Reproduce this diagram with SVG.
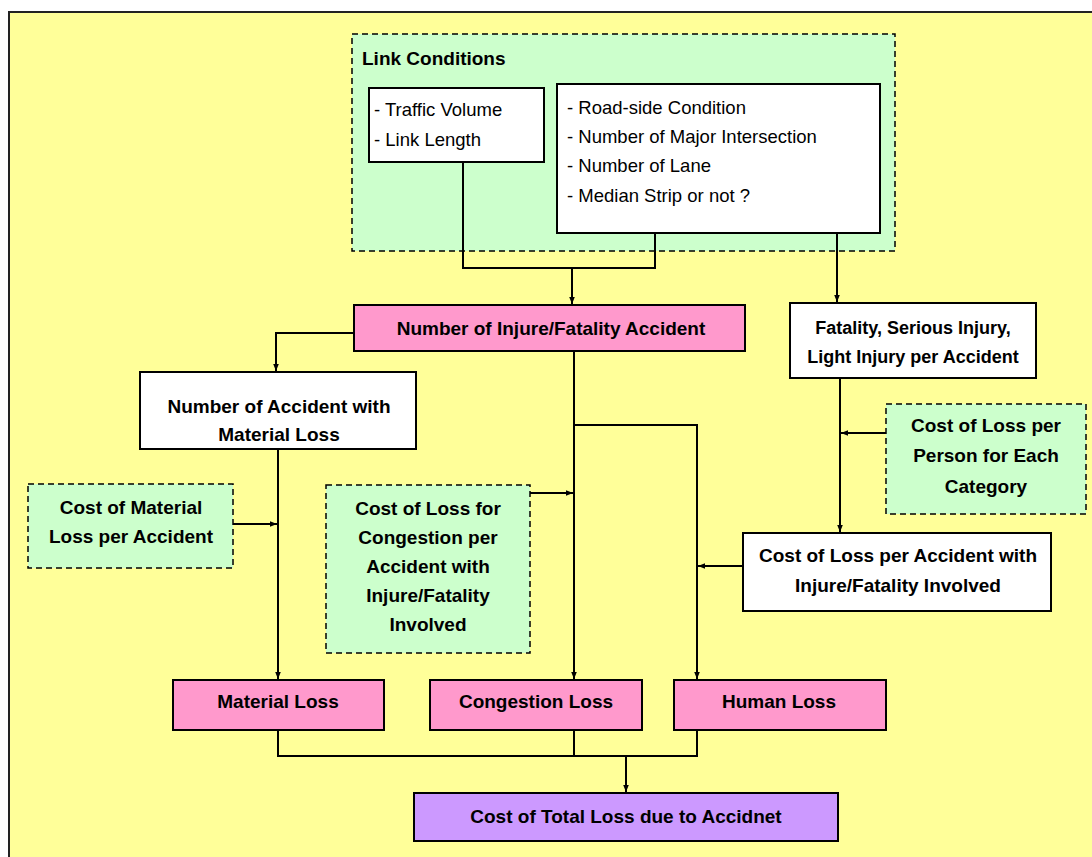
<svg xmlns="http://www.w3.org/2000/svg" width="1092" height="857" viewBox="0 0 1092 857">
  <defs>
    <marker id="arrow" viewBox="0 0 10 10" refX="10" refY="5" markerWidth="7" markerHeight="9" markerUnits="userSpaceOnUse" orient="auto">
      <path d="M0,1 L10,5 L0,9 Z" fill="#000"/>
    </marker>
  </defs>
  <style>
    .frame { fill: #FFFF99; stroke: #222; stroke-width: 2; }
    .solid { stroke: #000; stroke-width: 2; }
    .dash { stroke: #000; stroke-width: 1.5; stroke-dasharray: 6 4; }
    .white { fill: #FFFFFF; }
    .green { fill: #CCFFCC; }
    .pink { fill: #FF99CC; }
    .purple { fill: #CC99FF; }
    .lbl { font-family: "Liberation Sans Narrow", "Arial Narrow", "Liberation Sans", sans-serif; font-size: 19px; font-weight: bold; fill: #000; text-anchor: middle; }
    .item { font-family: "Liberation Sans Narrow", "Arial Narrow", "Liberation Sans", sans-serif; font-size: 18.5px; fill: #000; }
    .head { font-family: "Liberation Sans Narrow", "Arial Narrow", "Liberation Sans", sans-serif; font-size: 19px; font-weight: bold; fill: #000; }
    .conn { fill: none; stroke: #000; stroke-width: 2; }
  </style>

  <!-- background panel -->
  <rect class="frame" x="9" y="12" width="1100" height="870"/>

  <!-- link conditions group -->
  <g id="link-conditions">
    <rect class="green dash" x="352" y="34" width="543" height="217"/>
    <text class="head" x="362" y="65">Link Conditions</text>
  </g>
  <g id="traffic">
    <rect class="white solid" x="369" y="88" width="175" height="74"/>
    <text class="item" x="374" y="116">- Traffic Volume</text>
    <text class="item" x="374" y="146">- Link Length</text>
  </g>
  <g id="road">
    <rect class="white solid" x="557" y="84" width="323" height="149"/>
    <text class="item" x="567" y="114">- Road-side Condition</text>
    <text class="item" x="567" y="143">- Number of Major Intersection</text>
    <text class="item" x="567" y="172">- Number of Lane</text>
    <text class="item" x="567" y="202">- Median Strip or not ?</text>
  </g>

  <g id="injury-accidents">
    <rect class="pink solid" x="354" y="305" width="391" height="46"/>
    <text class="lbl" x="551" y="335">Number of Injure/Fatality Accident</text>
  </g>
  <g id="per-accident">
    <rect class="white solid" x="790" y="303" width="246" height="75"/>
    <text class="lbl" x="913" y="334" style="font-size:18px">Fatality, Serious Injury,</text>
    <text class="lbl" x="913" y="363" style="font-size:18px">Light Injury per Accident</text>
  </g>
  <g id="material-accidents">
    <rect class="white solid" x="140" y="372" width="276" height="77"/>
    <text class="lbl" x="279" y="413">Number of Accident with</text>
    <text class="lbl" x="279" y="441">Material Loss</text>
  </g>
  <g id="cost-person">
    <rect class="green dash" x="886" y="404" width="200" height="110"/>
    <text class="lbl" x="986" y="432">Cost of Loss per</text>
    <text class="lbl" x="986" y="462">Person for Each</text>
    <text class="lbl" x="986" y="493">Category</text>
  </g>
  <g id="cost-material">
    <rect class="green dash" x="28" y="484" width="205" height="84"/>
    <text class="lbl" x="131" y="514">Cost of Material</text>
    <text class="lbl" x="131" y="543">Loss per Accident</text>
  </g>
  <g id="cost-congestion">
    <rect class="green dash" x="326" y="485" width="204" height="168"/>
    <text class="lbl" x="428" y="515">Cost of Loss for</text>
    <text class="lbl" x="428" y="544">Congestion per</text>
    <text class="lbl" x="428" y="573">Accident with</text>
    <text class="lbl" x="428" y="602">Injure/Fatality</text>
    <text class="lbl" x="428" y="631">Involved</text>
  </g>
  <g id="cost-accident">
    <rect class="white solid" x="743" y="533" width="308" height="78"/>
    <text class="lbl" x="898" y="562">Cost of Loss per Accident with</text>
    <text class="lbl" x="898" y="592">Injure/Fatality Involved</text>
  </g>
  <g id="material-loss">
    <rect class="pink solid" x="173" y="680" width="211" height="50"/>
    <text class="lbl" x="278" y="708">Material Loss</text>
  </g>
  <g id="congestion-loss">
    <rect class="pink solid" x="430" y="680" width="212" height="50"/>
    <text class="lbl" x="536" y="708">Congestion Loss</text>
  </g>
  <g id="human-loss">
    <rect class="pink solid" x="674" y="680" width="212" height="50"/>
    <text class="lbl" x="779" y="708">Human Loss</text>
  </g>
  <g id="total-loss">
    <rect class="purple solid" x="414" y="793" width="424" height="48"/>
    <text class="lbl" x="626" y="823">Cost of Total Loss due to Accidnet</text>
  </g>

  <g id="connectors">
    <path class="conn" d="M463,162 V268 H655 V233"/>
    <path class="conn" d="M572,268 V304" marker-end="url(#arrow)"/>
    <path class="conn" d="M837,233 V302" marker-end="url(#arrow)"/>
    <path class="conn" d="M354,333 H276 V371" marker-end="url(#arrow)"/>
    <path class="conn" d="M574,351 V679" marker-end="url(#arrow)"/>
    <path class="conn" d="M574,425 H697 V679" marker-end="url(#arrow)"/>
    <path class="conn" d="M278,449 V679" marker-end="url(#arrow)"/>
    <path class="conn" d="M840,378 V532" marker-end="url(#arrow)"/>
    <path class="conn" d="M886,433 H841" marker-end="url(#arrow)"/>
    <path class="conn" d="M743,566 H698" marker-end="url(#arrow)"/>
    <path class="conn" d="M233,524 H277" marker-end="url(#arrow)"/>
    <path class="conn" d="M530,493 H573" marker-end="url(#arrow)"/>
    <path class="conn" d="M278,730 V756 H697 V730 M574,730 V756"/>
    <path class="conn" d="M626,756 V792" marker-end="url(#arrow)"/>
  </g>
</svg>
